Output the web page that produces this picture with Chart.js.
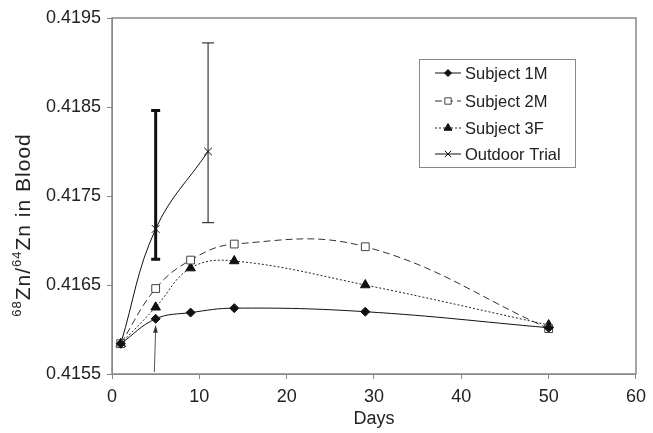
<!DOCTYPE html>
<html>
<head>
<meta charset="utf-8">
<script src="https://cdn.jsdelivr.net/npm/chart.js@4/dist/chart.umd.min.js"></script>
<style>
  html, body { margin: 0; padding: 0; background: #fff; }
  #wrap { width: 653px; height: 433px; }
</style>
</head>
<body>
<div id="wrap"><canvas id="myChart" width="653" height="433"></canvas></div>
<script>
// data
var days = [1, 5, 9, 14, 29, 50];
var subject1M = [0.41584, 0.41612, 0.41619, 0.41624, 0.41620, 0.41602];
var subject2M = [0.41584, 0.41646, 0.41678, 0.41696, 0.41693, 0.41601];
var subject3F = [0.41584, 0.41625, 0.41669, 0.41677, 0.41650, 0.41605];
var outdoorDays = [1, 5, 11];
var outdoorTrial = [0.41584, 0.41713, 0.41800];
var outdoorHigh = [null, 0.41846, 0.41922];
var outdoorLow = [null, 0.41679, 0.41720];
var errWidth = [0, 3, 1];   // line width of each error bar
var xTicks = [0, 10, 20, 30, 40, 50, 60];
var yTicks = [0.4155, 0.4165, 0.4175, 0.4185, 0.4195];
var arrowFrom = { x: 4.85, y: 0.4155 };
var arrowTo = { x: 5, y: 0.41605 };

var ctx = document.getElementById('myChart').getContext('2d');
var font = '"Liberation Sans", Arial, sans-serif';

function pts(xs, ys) {
    var out = [];
    for (var i = 0; i < xs.length; i++) out.push({ x: xs[i], y: ys[i] });
    return out;
}

// frame, error bars, arrow, y title, legend
var extras = {
    id: 'extras',
    beforeDatasetsDraw: function(chart) {
        var c = chart.ctx, xs = chart.scales.x, ys = chart.scales.y;
        c.save();
        // error bars on the outdoor trial
        c.strokeStyle = '#111';
        for (var i = 0; i < outdoorDays.length; i++) {
            if (outdoorHigh[i] == null) continue;
            var px = xs.getPixelForValue(outdoorDays[i]);
            var top = ys.getPixelForValue(outdoorHigh[i]);
            var bot = ys.getPixelForValue(outdoorLow[i]);
            var half = errWidth[i] > 1 ? 4.5 : 6;
            c.lineWidth = errWidth[i];
            c.beginPath();
            c.moveTo(px, top); c.lineTo(px, bot);
            c.moveTo(px - half, top); c.lineTo(px + half, top);
            c.moveTo(px - half, bot); c.lineTo(px + half, bot);
            c.stroke();
        }
        // arrow pointing at day 5
        var ax = xs.getPixelForValue(arrowFrom.x), ay = ys.getPixelForValue(arrowFrom.y);
        var bx = xs.getPixelForValue(arrowTo.x), by = ys.getPixelForValue(arrowTo.y);
        var ang = Math.atan2(by - ay, bx - ax);
        c.strokeStyle = '#555'; c.fillStyle = '#333'; c.lineWidth = 1;
        c.beginPath(); c.moveTo(ax, ay - 2); c.lineTo(bx, by + 3); c.stroke();
        c.beginPath();
        c.moveTo(bx, by);
        c.lineTo(bx - 8 * Math.cos(ang - 0.3), by - 8 * Math.sin(ang - 0.3));
        c.lineTo(bx - 8 * Math.cos(ang + 0.3), by - 8 * Math.sin(ang + 0.3));
        c.closePath(); c.fill();
        c.restore();
    },
    afterDraw: function(chart) {
        var c = chart.ctx, a = chart.chartArea;
        c.save();
        c.strokeStyle = '#888'; c.lineWidth = 1.5;
        c.strokeRect(a.left, a.top, a.right - a.left, a.bottom - a.top);

        // y axis title with superscripts
        c.translate(23, 225);
        c.rotate(-Math.PI / 2);
        c.fillStyle = '#222';
        c.textBaseline = 'alphabetic';
        c.letterSpacing = '1px';
        var parts = [['68', 1], ['Zn/', 0], ['64', 1], ['Zn in Blood', 0]];
        var w = 0;
        parts.forEach(function(p) {
            c.font = (p[1] ? '13px ' : '21px ') + font;
            w += c.measureText(p[0]).width;
        });
        var x = -w / 2;
        parts.forEach(function(p) {
            c.font = (p[1] ? '13px ' : '21px ') + font;
            c.fillText(p[0], x, p[1] ? -2 : 7);
            x += c.measureText(p[0]).width;
        });
        c.restore();

        // legend
        c.save();
        c.fillStyle = '#fff';
        c.fillRect(419, 59, 156, 108);
        c.strokeStyle = '#888'; c.lineWidth = 1;
        c.strokeRect(419.5, 59.5, 156, 108);
        var rows = [73, 101, 128, 154];
        chart.data.datasets.forEach(function(ds, i) {
            var y = rows[i];
            c.strokeStyle = ds.borderColor; c.lineWidth = 1;
            c.setLineDash(ds.borderDash || []);
            c.beginPath(); c.moveTo(435, y); c.lineTo(461, y); c.stroke();
            c.setLineDash([]);
            c.fillStyle = ds.pointBackgroundColor; c.strokeStyle = ds.pointBorderColor;
            Chart.helpers.drawPoint(c, {
                pointStyle: ds.pointStyle, radius: ds.pointRadius - 1, rotation: 0,
                borderWidth: 1
            }, 448, y);
            c.fillStyle = '#222';
            c.font = '16.5px ' + font;
            c.textBaseline = 'middle';
            c.fillText(ds.label, 465, y + 1);
        });
        c.restore();
    }
};

var myChart = new Chart(ctx, {
    type: 'scatter',
    data: {
        datasets: [{
            label: 'Subject 1M',
            data: pts(days, subject1M),
            showLine: true, tension: 0.4,
            borderColor: '#111', borderWidth: 1,
            pointStyle: 'rectRot', pointRadius: 4.5,
            pointBackgroundColor: '#111', pointBorderColor: '#111'
        }, {
            label: 'Subject 2M',
            data: pts(days, subject2M),
            showLine: true, tension: 0.4,
            borderColor: '#333', borderWidth: 1, borderDash: [7, 4],
            pointStyle: 'rect', pointRadius: 5.5,
            pointBackgroundColor: '#fff', pointBorderColor: '#444'
        }, {
            label: 'Subject 3F',
            data: pts(days, subject3F),
            showLine: true, tension: 0.4,
            borderColor: '#222', borderWidth: 1, borderDash: [2, 2],
            pointStyle: 'triangle', pointRadius: 5.5,
            pointBackgroundColor: '#111', pointBorderColor: '#111'
        }, {
            label: 'Outdoor Trial',
            data: pts(outdoorDays, outdoorTrial),
            showLine: true, tension: 0.4,
            borderColor: '#111', borderWidth: 1,
            pointStyle: 'crossRot', pointRadius: 5.5,
            pointBackgroundColor: '#111', pointBorderColor: '#111'
        }]
    },
    options: {
        responsive: false,
        animation: false,
        layout: { padding: { left: 0, right: 12, top: 18, bottom: 0 } },
        plugins: { legend: { display: false }, tooltip: { enabled: false } },
        scales: {
            x: {
                type: 'linear', min: 0, max: 60,
                afterBuildTicks: function(s) { s.ticks = xTicks.map(function(v) { return { value: v }; }); },
                afterFit: function(s) { s.height = 59; },
                grid: { drawOnChartArea: false, tickLength: 5, color: '#888' },
                border: { color: '#888' },
                ticks: { color: '#222', font: { size: 18, family: font }, padding: 7, maxRotation: 0 },
                title: { display: true, text: 'Days', color: '#222', font: { size: 18, family: font },
                    padding: { top: 0, bottom: 3 } }
            },
            y: {
                type: 'linear', min: 0.4155, max: 0.4195,
                afterBuildTicks: function(s) { s.ticks = yTicks.map(function(v) { return { value: v }; }); },
                afterFit: function(s) { s.width = 112; },
                grid: { drawOnChartArea: false, tickLength: 5, color: '#888' },
                border: { color: '#888' },
                ticks: { color: '#222', font: { size: 18, family: font }, padding: 6,
                    callback: function(v) { return v.toFixed(4); } }
            }
        }
    },
    plugins: [extras]
});
</script>
</body>
</html>
